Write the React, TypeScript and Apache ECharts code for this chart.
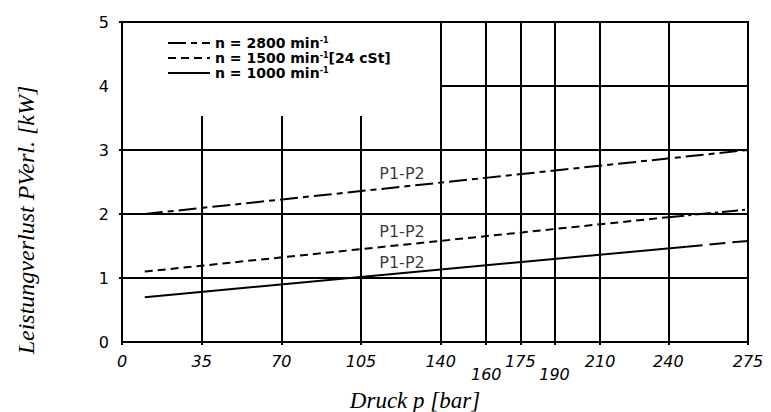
import React, { useEffect, useRef } from "react";
import * as echarts from "echarts";

// Data (pressure [bar], power loss [kW])
const line2800 = [[10, 2.0], [275, 3.0]];
const line1500 = [[10, 1.1], [240, 1.95]];
const line1500Tail = [[240, 1.95], [275, 2.07]];
const line1000 = [[10, 0.7], [248, 1.49]];
const line1000Tail = [[248, 1.49], [275, 1.58]];
const curveLabels = [[123, 2.64], [123, 1.72], [123, 1.25]];
const curveLabelText = "P1-P2";

const xTickValues = [0, 35, 70, 105, 140, 160, 175, 190, 210, 240, 275];
const xSecondRow = [160, 190];
const yTickMarks = [1, 2, 3, 5];

// grid lines drawn on the diagram
const fullVerticals = [140, 160, 175, 190, 210, 240];
const partialVerticals = [35, 70, 105];
const partialVerticalTop = 3.53;
const fullHorizontals = [1, 2, 3];
const partialHorizontal = 4;

const name2800 = "n = 2800 min-1";
const name1500 = "n = 1500 min-1[24 cSt]";
const name1000 = "n = 1000 min-1";

export default function App() {
  const ref = useRef<HTMLDivElement>(null);
  useEffect(() => {
    if (!ref.current) return;
    const chart = echarts.init(ref.current, null, { renderer: "svg" });
    const gridLines: any[] = [];
    fullVerticals.forEach((x) => gridLines.push([{ coord: [x, 0] }, { coord: [x, 5] }]));
    partialVerticals.forEach((x) =>
      gridLines.push([{ coord: [x, 0] }, { coord: [x, partialVerticalTop] }])
    );
    fullHorizontals.forEach((y) => gridLines.push([{ coord: [0, y] }, { coord: [275, y] }]));
    gridLines.push([{ coord: [140, partialHorizontal] }, { coord: [275, partialHorizontal] }]);

    const lineBase = { type: "line", symbol: "none", silent: true, z: 3, color: "#000" };
    chart.setOption({
      animation: false,
      backgroundColor: "#fff",
      grid: {
        left: 122,
        right: 23,
        top: 22,
        bottom: 70,
        containLabel: false,
        outerBoundsMode: "none",
        show: true,
        borderColor: "#000",
        borderWidth: 2,
      },
      legend: {
        data: [name2800, name1500, name1000],
        orient: "vertical",
        left: 162,
        top: 31,
        itemWidth: 42,
        itemHeight: 10,
        itemGap: 1,
        selectedMode: false,
        itemStyle: { opacity: 0, borderWidth: 0 },
        formatter: (n: string) => {
          if (n === name1500) return "{a|n = 1500 min}{s|-1}{a|[24 cSt]}";
          if (n === name2800) return "{a|n = 2800 min}{s|-1}";
          return "{a|n = 1000 min}{s|-1}";
        },
        textStyle: {
          color: "#000",
          rich: {
            a: {
              fontFamily: "DejaVu Sans",
              fontWeight: "bold",
              fontSize: 14,
              lineHeight: 13,
              color: "#000",
            },
            s: {
              fontFamily: "DejaVu Sans",
              fontWeight: "bold",
              fontSize: 8,
              lineHeight: 6,
              verticalAlign: "top",
              color: "#000",
            },
          },
        },
      },
      xAxis: {
        type: "value",
        min: 0,
        max: 275,
        name: "Druck p [bar]",
        nameLocation: "middle",
        nameGap: 46,
        nameTextStyle: {
          fontFamily: "Liberation Serif",
          fontStyle: "italic",
          fontSize: 23,
          lineHeight: 24,
          color: "#000",
          padding: [0, 40, 0, 0],
        },
        splitLine: { show: false },
        axisLine: { show: true, lineStyle: { color: "#000", width: 2 } },
        axisTick: {
          show: true,
          customValues: xTickValues,
          length: 3,
          lineStyle: { color: "#000", width: 2 },
        },
        axisLabel: {
          customValues: xTickValues,
          margin: 13,
          fontFamily: "DejaVu Sans",
          fontStyle: "italic",
          fontSize: 16,
          lineHeight: 13,
          color: "#000",
          formatter: (v: number) => (xSecondRow.includes(v) ? "\n" + v : String(v)),
        },
      },
      yAxis: {
        type: "value",
        min: 0,
        max: 5,
        interval: 1,
        name: "Leistungverlust PVerl. [kW]",
        nameLocation: "middle",
        nameGap: 84,
        nameTextStyle: {
          fontFamily: "Liberation Serif",
          fontStyle: "italic",
          fontSize: 24,
          color: "#000",
          padding: [0, 76, 0, 0],
        },
        splitLine: { show: false },
        axisLine: { show: true, lineStyle: { color: "#000", width: 2 } },
        axisTick: {
          show: true,
          customValues: yTickMarks,
          length: 3,
          lineStyle: { color: "#000", width: 2 },
        },
        axisLabel: {
          margin: 13,
          fontFamily: "DejaVu Sans",
          fontSize: 16,
          color: "#000",
          padding: [0, 0, 12, 0],
        },
      },
      series: [
        {
          ...lineBase,
          name: name2800,
          data: line2800,
          lineStyle: { color: "#000", width: 2, type: [18, 5, 6, 5] },
        },
        {
          ...lineBase,
          name: name1500,
          data: line1500,
          lineStyle: { color: "#000", width: 2, type: [8, 5] },
        },
        {
          ...lineBase,
          name: "1500 tail",
          data: line1500Tail,
          lineStyle: { color: "#000", width: 2, type: [16, 4, 3, 4] },
        },
        {
          ...lineBase,
          name: name1000,
          data: line1000,
          lineStyle: { color: "#000", width: 2, type: "solid" },
        },
        {
          ...lineBase,
          name: "1000 tail",
          data: line1000Tail,
          lineStyle: { color: "#000", width: 2, type: [16, 7] },
        },
        {
          type: "scatter",
          name: "labels",
          silent: true,
          symbolSize: 0,
          data: curveLabels,
          z: 4,
          label: {
            show: true,
            position: "inside",
            formatter: curveLabelText,
            fontFamily: "DejaVu Sans",
            fontSize: 16,
            color: "#000",
          },
          markLine: {
            silent: true,
            symbol: "none",
            animation: false,
            label: { show: false },
            lineStyle: { color: "#000", width: 2, type: "solid" },
            emphasis: { disabled: true },
            data: gridLines,
          },
        },
      ],
    });
    return () => chart.dispose();
  }, []);
  return (
    <div
      ref={ref}
      style={{ position: "fixed", left: 0, top: 0, width: 771, height: 412 }}
    />
  );
}
